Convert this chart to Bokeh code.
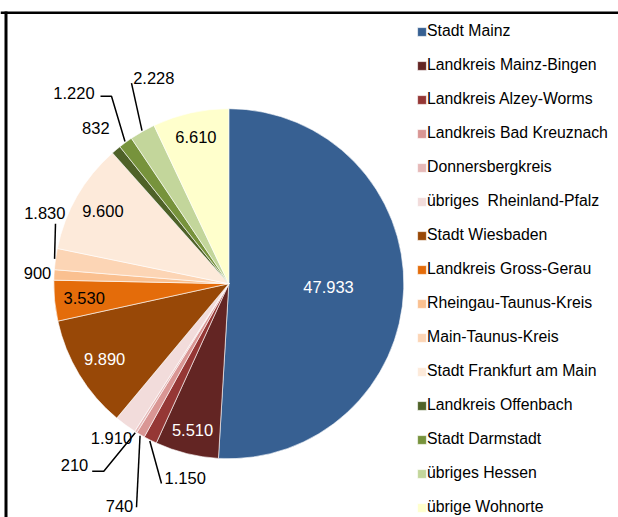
import math
from bokeh.plotting import figure
from bokeh.models import ColumnDataSource, Range1d, Span, Legend, LegendItem
from bokeh.embed import file_html
from bokeh.resources import INLINE
from bokeh.core.properties import value

# ---------------- data ----------------
categories = ["Stadt Mainz", "Landkreis Mainz-Bingen", "Landkreis Alzey-Worms",
              "Landkreis Bad Kreuznach", "Donnersbergkreis", "übriges  Rheinland-Pfalz",
              "Stadt Wiesbaden", "Landkreis Gross-Gerau", "Rheingau-Taunus-Kreis",
              "Main-Taunus-Kreis", "Stadt Frankfurt am Main", "Landkreis Offenbach",
              "Stadt Darmstadt", "übriges Hessen", "übrige Wohnorte"]
values = [47933, 5510, 1150, 740, 210, 1910, 9890, 3530, 900, 1830, 9600, 832, 1220, 2228, 6610]
colors = ["#376092", "#632523", "#953735", "#D99694", "#E6B9B8", "#F2DCDB", "#984807",
          "#E46C0A", "#FAC090", "#FCD5B5", "#FDEADA", "#4F6228", "#77933C", "#C3D69B", "#FFFFCC"]

# ---------------- layout (screen pixels) ----------------
W, H = 618, 517
CX, CY, R = 228.3, 283.2, 175.0
WHITE_LABELS = {0, 1, 6}
INSIDE_RADIUS = {0: 0.57, 1: 0.86, 6: 0.83, 7: 0.83, 10: 0.83, 14: 0.86}
OUTSIDE_POS = {2: (184.7, 477), 3: (119, 505), 4: (74, 464), 5: (111, 437),
               8: (37, 272), 9: (44.3, 212.7), 11: (95.3, 127), 12: (73.5, 92),
               13: (153.3, 77)}
LEADER_PTS = {2: [(161, 483)], 3: [(136, 506.7)], 4: [(103.3, 470.7), (91.7, 470.7)],
              9: [(55, 223.3)], 12: [(111, 95.7), (100, 95.7)], 13: [(131, 82.7)]}


def dy(sy):
    # screen y -> data y (1 data unit == 1 px)
    return H - sy


total = float(sum(values))
starts, ends, mids = [], [], []
acc = 0.0
for v in values:
    t0 = acc / total * 360.0
    acc += v
    t1 = acc / total * 360.0
    starts.append(math.radians(90 - t0))
    ends.append(math.radians(90 - t1))
    mids.append(math.radians((t0 + t1) / 2))

labels = ["{:,}".format(v).replace(",", ".") for v in values]

p = figure(width=W, height=H, x_range=Range1d(0, W), y_range=Range1d(0, H),
           output_backend="svg", toolbar_location=None, min_border=0,
           x_axis_type=None, y_axis_type=None)
p.grid.visible = False
p.outline_line_color = None
p.background_fill_color = "white"
p.border_fill_color = "white"

src = ColumnDataSource(dict(start=starts, end=ends, color=colors, name=categories))
wr = p.wedge(x=CX, y=dy(CY), radius=R, start_angle="start", end_angle="end",
             direction="clock", fill_color="color", line_color="white",
             line_width=0.6, source=src)

# labels
lx, ly, lt, lc = [], [], [], []
lines_x, lines_y = [], []
for i, lab in enumerate(labels):
    th = mids[i]
    if i in INSIDE_RADIUS:
        rr = R * INSIDE_RADIUS[i]
        x = CX + rr * math.sin(th)
        y = CY - rr * math.cos(th)
    else:
        x, y = OUTSIDE_POS[i]
    lx.append(x)
    ly.append(dy(y))
    lt.append(lab)
    lc.append("white" if i in WHITE_LABELS else "black")
    if i in LEADER_PTS:
        sx = CX + (R + 1) * math.sin(th)
        sy = CY - (R + 1) * math.cos(th)
        pts = [(sx, sy)] + LEADER_PTS[i]
        lines_x.append([q[0] for q in pts])
        lines_y.append([dy(q[1]) for q in pts])

p.multi_line(xs=lines_x, ys=lines_y, line_color="black", line_width=1.5)
p.text(x=lx, y=ly, text=lt, text_color=lc, text_align="center",
       text_baseline="middle", text_font=value("Liberation Sans"),
       text_font_size="16.5px")

# frame borders (left & top)
p.add_layout(Span(location=dy(12.3), dimension="width", line_color="black", line_width=2.6))
p.segment(x0=5.5, y0=dy(11), x1=5.5, y1=0, line_color="black", line_width=3)

legend = Legend(items=[LegendItem(label=c, renderers=[wr], index=i)
                       for i, c in enumerate(categories)])
legend.location = (416, 0)
legend.padding = 0
legend.margin = 0
legend.spacing = 14
legend.label_height = 20
legend.glyph_height = 11
legend.glyph_width = 11
legend.label_standoff = 0
legend.label_text_font = "Liberation Sans"
legend.label_text_font_size = "15.8px"
legend.label_text_color = "black"
legend.border_line_color = None
legend.background_fill_alpha = 0
p.add_layout(legend)

open("out.html", "w").write(file_html(p, INLINE))
